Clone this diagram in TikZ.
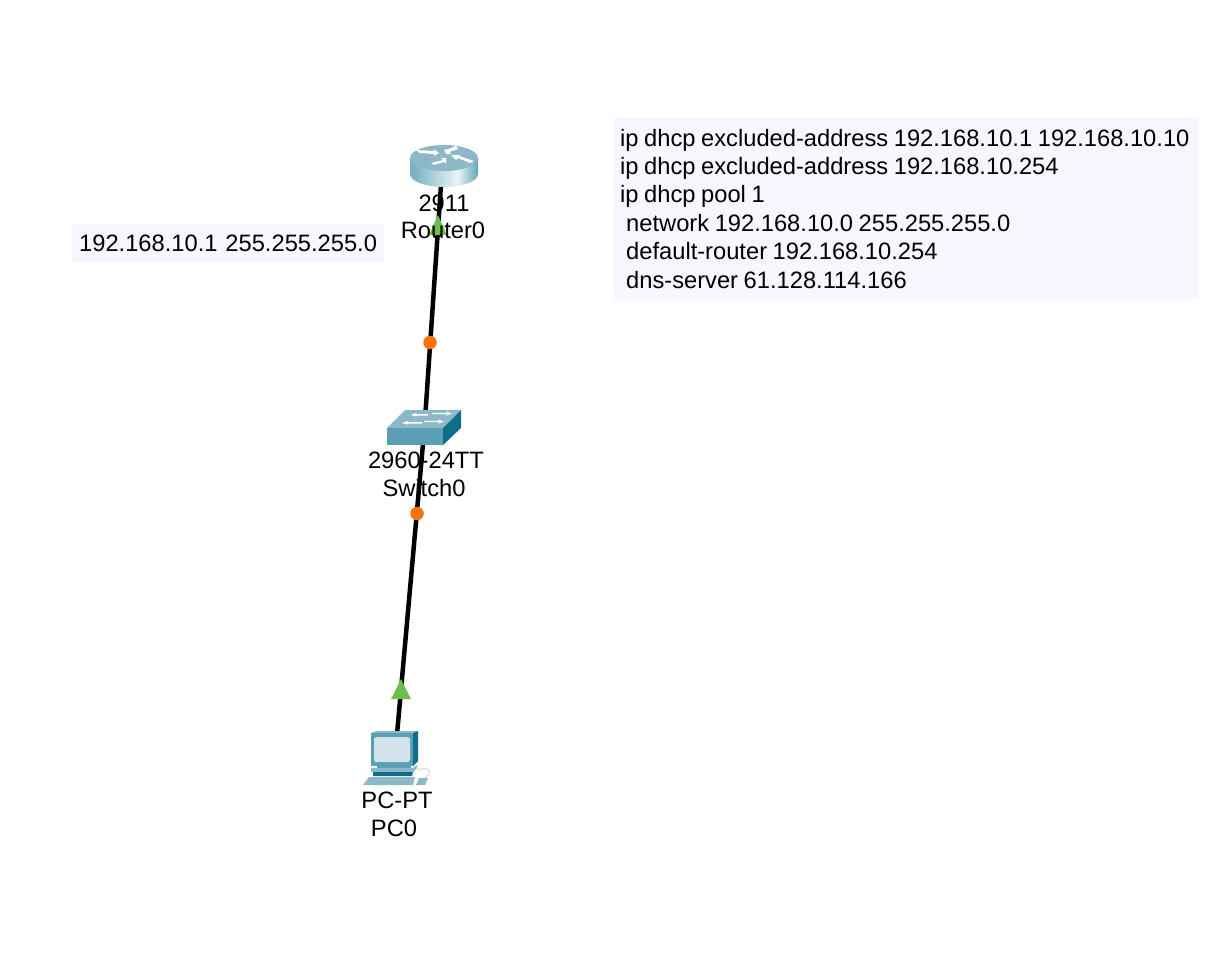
\documentclass[tikz,border=0pt]{standalone}
\usepackage{fontspec}
\setmainfont{Liberation Sans}
\definecolor{panelbg}{HTML}{F6F7FF}
\definecolor{linkgreen}{HTML}{6CBF4B}
\definecolor{linkorange}{HTML}{F97306}
\definecolor{ciscotop}{HTML}{8DB8C8}
\definecolor{ciscofront}{HTML}{5B9FB5}
\definecolor{ciscodark}{HTML}{0F6E88}
\definecolor{ciscoscreen}{HTML}{D3E3EB}
\pgfdeclarehorizontalshading{routerbody}{100bp}{
  color(0bp)=(ciscofront); color(28bp)=(ciscofront!80!white); color(60bp)=(white!88!ciscofront);
  color(76bp)=(ciscofront); color(100bp)=(ciscodark)}
\tikzset{
  x=1pt,y=-1pt,
  every node/.style={font=\fontsize{23.7}{28.4}\selectfont,text=black,inner sep=0pt},
  devlabel/.style={anchor=base},
  panel/.style={fill=panelbg,anchor=north west,align=left},
  anchorpt/.style={minimum size=1pt},
  linkline/.style={line width=4.5pt,black},
  greenmark/.style={fill=linkgreen,draw=none},
  orangemark/.style={circle,fill=linkorange,minimum size=13.5pt},
}
\begin{document}
\begin{tikzpicture}
\useasboundingbox (0,0) rectangle (1227,956);
\fill[white] (0,0) rectangle (1227,956);

% panels
\node[panel,minimum width=312pt,minimum height=39pt,text width=305pt,inner xsep=3.5pt] (ippanel) at (72,224) {\hspace*{3.5pt}192.168.10.1 255.255.255.0};
\node[panel,minimum width=585pt,minimum height=183pt,text width=579pt] (dhcppanel) at (614,117) {\spaceskip=5.6pt\relax%
\hspace*{3pt}ip dhcp excluded-address 192.168.10.1 192.168.10.10\\
\hspace*{3pt}ip dhcp excluded-address 192.168.10.254\\
\hspace*{3pt}ip dhcp pool 1\\
\hspace*{9pt}network 192.168.10.0 255.255.255.0\\
\hspace*{9pt}default-router 192.168.10.254\\
\hspace*{9pt}dns-server 61.128.114.166};

% device anchors
\node[anchorpt] (router) at (442,170) {};
\node[anchorpt] (switch) at (424.5,427) {};
\node[anchorpt] (pc) at (396.5,740) {};

% links
\draw[linkline] (router.center) -- (switch.center);
\draw[linkline] (switch.center) -- (pc.center);

% link lights
\fill[greenmark] (438,215) -- (447,235) -- (429,235) -- cycle;
\fill[greenmark] (401,679) -- (411,699) -- (391,699) -- cycle;
\node[orangemark] (lightA) at (430,342.5) {};
\node[orangemark] (lightB) at (417,513.5) {};

% router icon
\shade[shading=routerbody] (410,158) -- (410,174) arc[start angle=180,end angle=0,x radius=34,y radius=13] -- (478,158) -- cycle;
\fill[ciscotop] (444,158) ellipse[x radius=34,y radius=13];
\fill[white] (416,150) -- (434,151) -- (434,149) -- (439,153) -- (434,156) -- (434,154) -- (420,153) -- cycle;
\fill[white] (456,146) -- (446,150) -- (444,149) -- (446,154) -- (451,154) -- (449,152) -- (458,149) -- cycle;
\fill[white] (474,161) -- (459,156) -- (461,155) -- (451,155) -- (456,160) -- (458,158) -- (470,163) -- cycle;
\fill[white] (434,165) -- (444,162) -- (446,164) -- (446,158) -- (441,158) -- (443,160) -- (431,163) -- cycle;

% switch icon
\fill[ciscotop] (387,428) -- (405,410) -- (461,410) -- (443,428) -- cycle;
\fill[ciscofront] (387,428) rectangle (443,445);
\fill[ciscodark] (443,428) -- (461,410) -- (461,428) -- (443,445) -- cycle;
\fill[white] (411,415) -- (416,413) -- (416,414) -- (428,414) -- (428,415.5) -- (416,415.5) -- (416,416.5) -- cycle;
\fill[white] (452,413.5) -- (446,411.5) -- (446,412.8) -- (432,412.8) -- (432,414.2) -- (446,414.2) -- (446,415.5) -- cycle;
\fill[white] (402,423) -- (408,421) -- (408,422) -- (422,422) -- (422,423.5) -- (408,423.5) -- (408,424.5) -- cycle;
\fill[white] (444,421.5) -- (438,419.5) -- (438,420.8) -- (424,420.8) -- (424,422.2) -- (438,422.2) -- (438,423.5) -- cycle;

% pc icon
\fill[ciscotop] (371,733) -- (376,731) -- (418,731) -- (413,733) -- cycle;
\fill[ciscodark] (413,733) -- (418,731) -- (418,761) -- (413,766) -- cycle;
\fill[ciscofront] (371,733) rectangle (413,766);
\fill[ciscoscreen,rounded corners=2.5pt] (374,737) rectangle (410,762);
\fill[ciscofront] (377,766) rectangle (411,768);
\fill[ciscotop] (371,768) -- (413,768) -- (417,765) -- (417,768) -- (413,772) -- (371,772) -- cycle;
\fill[ciscodark] (373,772) -- (413,772) -- (412,776) -- (373,776) -- cycle;
\fill[ciscotop] (369,777) -- (415,777) -- (413,785) -- (363,785) -- cycle;
\fill[ciscotop] (419,778) -- (428,778) -- (425,785) -- (416,785) -- cycle;
\draw[ciscotop!50!white,line width=.9pt] (425,778) .. controls (430,774) and (431,771) .. (427,769) .. controls (424,768) and (420,769) .. (417,770);

% labels
\node[devlabel] (routermodel) at (444,211) {2911};
\node[devlabel] (routername) at (443,238) {Router0};
\node[devlabel] (switchmodel) at (426,468) {2960-24TT};
\node[devlabel] (switchname) at (424,496) {Switch0};
\node[devlabel] (pcmodel) at (397,808) {PC-PT};
\node[devlabel] (pcname) at (394,836) {PC0};
\end{tikzpicture}
\end{document}
